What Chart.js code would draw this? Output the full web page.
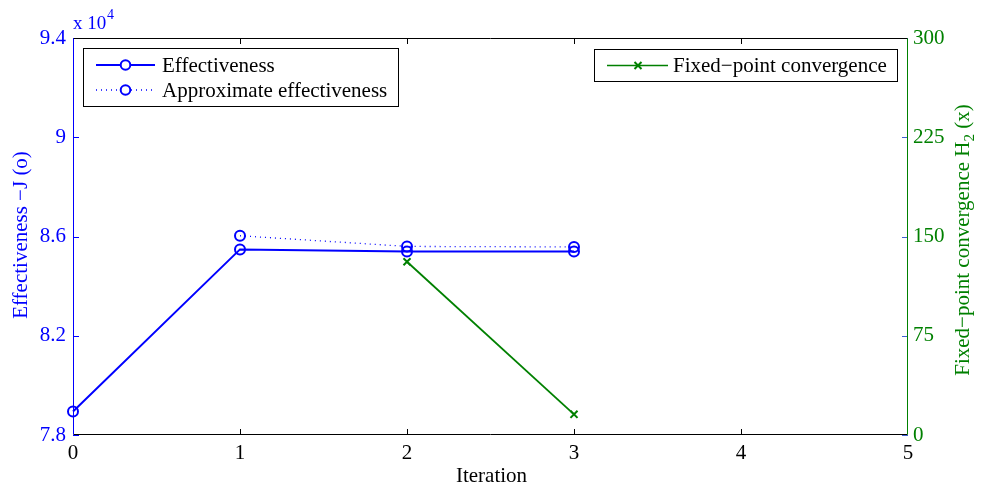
<!DOCTYPE html>
<html>
<head>
<meta charset="utf-8">
<script src="https://cdn.jsdelivr.net/npm/chart.js@4.4.1/dist/chart.umd.min.js"></script>
<style>
  html, body { margin: 0; padding: 0; background: #fff; }
  #wrap { width: 981px; height: 490px; }
</style>
</head>
<body>
<div id="wrap"><canvas id="grafico"></canvas></div>
<script>
// datos
const iteraciones = ['0', '1', '2', '3', '4', '5'];
const efectividad = [78950, 85480, 85400, 85400, null, null];
const efectividadAprox = [null, 86030, 85600, 85580, null, null];
const puntoFijo = [null, null, 130.9, 15.6, null, null];
const ticksIzq = [78000, 82000, 86000, 90000, 94000];
const ticksDer = [0, 75, 150, 225, 300];

const AZUL = '#0000ff';
const VERDE = '#008000';
const FUENTE = '"Liberation Serif", "Times New Roman", serif';
const TAM = 21;

function anchoFijo(w){ return function(s){ s.width = w; }; }

// marco, ticks hacia adentro, leyendas y titulos al estilo matlab
const estiloMatlab = {
  id: 'estiloMatlab',
  afterDraw(chart){
    const ctx = chart.ctx;
    const a = chart.chartArea;
    const sx = chart.scales.x, sy = chart.scales.y, sy2 = chart.scales.y2;
    ctx.save();
    ctx.lineWidth = 1;

    // ticks x arriba y abajo
    ctx.strokeStyle = '#000';
    for(let i = 1; i < iteraciones.length - 1; i++){
      const px = Math.round(sx.getPixelForValue(i)) + 0.5;
      ctx.beginPath();
      ctx.moveTo(px, a.bottom); ctx.lineTo(px, a.bottom - 6);
      ctx.moveTo(px, a.top); ctx.lineTo(px, a.top + 6);
      ctx.stroke();
    }
    // ticks izquierda
    ctx.strokeStyle = AZUL;
    sy.ticks.forEach(t => {
      const py = Math.round(sy.getPixelForValue(t.value)) + 0.5;
      ctx.beginPath(); ctx.moveTo(a.left, py); ctx.lineTo(a.left + 6, py); ctx.stroke();
    });
    // ticks derecha
    ctx.strokeStyle = '#4060d0';
    sy2.ticks.forEach(t => {
      const py = Math.round(sy2.getPixelForValue(t.value)) + 0.5;
      ctx.beginPath(); ctx.moveTo(a.right, py); ctx.lineTo(a.right - 6, py); ctx.stroke();
    });

    // marco
    const L = Math.round(a.left) + 0.5, R = Math.round(a.right) - 0.5;
    const T = Math.round(a.top) + 0.5, B = Math.round(a.bottom) - 0.5;
    ctx.strokeStyle = '#000';
    ctx.beginPath(); ctx.moveTo(L, T); ctx.lineTo(R, T); ctx.moveTo(L, B); ctx.lineTo(R, B); ctx.stroke();
    ctx.strokeStyle = AZUL;
    ctx.beginPath(); ctx.moveTo(L, T); ctx.lineTo(L, B); ctx.stroke();
    ctx.strokeStyle = VERDE;
    ctx.beginPath(); ctx.moveTo(R, T); ctx.lineTo(R, B); ctx.stroke();

    // leyenda izquierda
    ctx.fillStyle = '#fff';
    ctx.strokeStyle = '#000';
    ctx.fillRect(83.5, 48.5, 315, 58);
    ctx.strokeRect(83.5, 48.5, 315, 58);
    ctx.font = TAM + 'px ' + FUENTE;
    ctx.textBaseline = 'middle';
    ctx.textAlign = 'left';
    ctx.strokeStyle = AZUL;
    ctx.lineWidth = 2;
    ctx.beginPath(); ctx.moveTo(96, 65); ctx.lineTo(155, 65); ctx.stroke();
    ctx.lineWidth = 1.3;
    ctx.setLineDash([1, 4]);
    ctx.beginPath(); ctx.moveTo(96, 90); ctx.lineTo(155, 90); ctx.stroke();
    ctx.setLineDash([]);
    ctx.lineWidth = 2;
    [65, 90].forEach(yy => {
      ctx.fillStyle = '#fff';
      ctx.beginPath(); ctx.arc(125.5, yy, 4.8, 0, Math.PI * 2); ctx.fill(); ctx.stroke();
    });
    ctx.fillStyle = '#000';
    ctx.fillText('Effectiveness', 162, 66);
    ctx.fillText('Approximate effectiveness', 162, 91);

    // leyenda derecha
    ctx.lineWidth = 1;
    ctx.fillStyle = '#fff';
    ctx.strokeStyle = '#000';
    ctx.fillRect(594.5, 49.5, 303, 32);
    ctx.strokeRect(594.5, 49.5, 303, 32);
    ctx.strokeStyle = VERDE;
    ctx.lineWidth = 1.6;
    ctx.beginPath(); ctx.moveTo(607, 65.5); ctx.lineTo(668, 65.5); ctx.stroke();
    ctx.lineWidth = 2;
    ctx.beginPath();
    ctx.moveTo(634.5, 62); ctx.lineTo(641.5, 69); ctx.moveTo(641.5, 62); ctx.lineTo(634.5, 69);
    ctx.stroke();
    ctx.fillStyle = '#000';
    ctx.fillText('Fixed\u2212point convergence', 673, 66);

    // x 10^4
    ctx.fillStyle = AZUL;
    ctx.textBaseline = 'alphabetic';
    ctx.font = '19px ' + FUENTE;
    ctx.fillText('x 10', 73, 29);
    ctx.font = '14px ' + FUENTE;
    ctx.fillText('4', 107, 19);

    // titulo eje x
    ctx.fillStyle = '#000';
    ctx.font = TAM + 'px ' + FUENTE;
    ctx.textAlign = 'center';
    ctx.fillText('Iteration', (a.left + a.right) / 2 + 1, 482);

    // titulo eje izquierdo
    ctx.save();
    ctx.translate(27, 235);
    ctx.rotate(-Math.PI / 2);
    ctx.fillStyle = AZUL;
    ctx.fillText('Effectiveness \u2212J (o)', 0, 0);
    ctx.restore();

    // titulo eje derecho con subindice
    ctx.save();
    ctx.translate(969, 240);
    ctx.rotate(-Math.PI / 2);
    ctx.fillStyle = VERDE;
    ctx.textAlign = 'left';
    const p1 = 'Fixed\u2212point convergence H', p3 = ' (x)';
    ctx.font = TAM + 'px ' + FUENTE;
    const w1 = ctx.measureText(p1).width, w3 = ctx.measureText(p3).width;
    ctx.font = '15px ' + FUENTE;
    const w2 = ctx.measureText('2').width;
    let x0 = -(w1 + w2 + w3) / 2;
    ctx.font = TAM + 'px ' + FUENTE;
    ctx.fillText(p1, x0, 0);
    ctx.font = '15px ' + FUENTE;
    ctx.fillText('2', x0 + w1, 5);
    ctx.font = TAM + 'px ' + FUENTE;
    ctx.fillText(p3, x0 + w1 + w2, 0);
    ctx.restore();

    ctx.restore();
  }
};

const ctx = document.getElementById('grafico').getContext('2d');
const miGrafico = new Chart(ctx, {
  type: 'line',
  data: {
    labels: iteraciones,
    datasets: [
      {
        label: 'Effectiveness',
        data: efectividad,
        yAxisID: 'y',
        borderColor: AZUL,
        borderWidth: 2,
        pointStyle: 'circle',
        pointRadius: 5,
        pointBorderWidth: 2,
        pointBackgroundColor: 'rgba(0,0,0,0)',
        pointBorderColor: AZUL,
        spanGaps: false
      },
      {
        label: 'Approximate effectiveness',
        data: efectividadAprox,
        yAxisID: 'y',
        borderColor: AZUL,
        borderWidth: 1.3,
        borderDash: [1, 4],
        pointStyle: 'circle',
        pointRadius: 5,
        pointBorderWidth: 2,
        pointBackgroundColor: 'rgba(0,0,0,0)',
        pointBorderColor: AZUL
      },
      {
        label: 'Fixed-point convergence',
        data: puntoFijo,
        yAxisID: 'y2',
        borderColor: VERDE,
        borderWidth: 1.8,
        pointStyle: 'crossRot',
        pointRadius: 5,
        pointBorderWidth: 2,
        pointBorderColor: VERDE
      }
    ]
  },
  options: {
    responsive: true,
    maintainAspectRatio: false,
    animation: false,
    clip: false,
    layout: { padding: { top: 38, left: 0, right: 0, bottom: 0 } },
    plugins: {
      legend: { display: false },
      tooltip: { enabled: false }
    },
    scales: {
      x: {
        type: 'category',
        offset: false,
        afterFit: function(s){ s.height = 55; },
        grid: { display: true, drawOnChartArea: false, drawTicks: false },
        border: { display: false },
        ticks: { color: '#000', padding: 6, font: { family: FUENTE, size: TAM }, maxRotation: 0 }
      },
      y: {
        position: 'left',
        min: 78000,
        max: 94000,
        afterFit: anchoFijo(73),
        afterBuildTicks: function(s){ s.ticks = ticksIzq.map(v => ({ value: v })); },
        grid: { display: true, drawOnChartArea: false, drawTicks: false },
        border: { display: false },
        ticks: {
          color: AZUL,
          padding: 7,
          font: { family: FUENTE, size: TAM },
          callback: function(v){ return String(Math.round(v / 1000) / 10); }
        }
      },
      y2: {
        position: 'right',
        min: 0,
        max: 300,
        afterFit: anchoFijo(73),
        afterBuildTicks: function(s){ s.ticks = ticksDer.map(v => ({ value: v })); },
        grid: { display: true, drawOnChartArea: false, drawTicks: false },
        border: { display: false },
        ticks: { color: VERDE, padding: 5, font: { family: FUENTE, size: TAM } }
      }
    }
  },
  plugins: [estiloMatlab]
});
</script>
</body>
</html>
